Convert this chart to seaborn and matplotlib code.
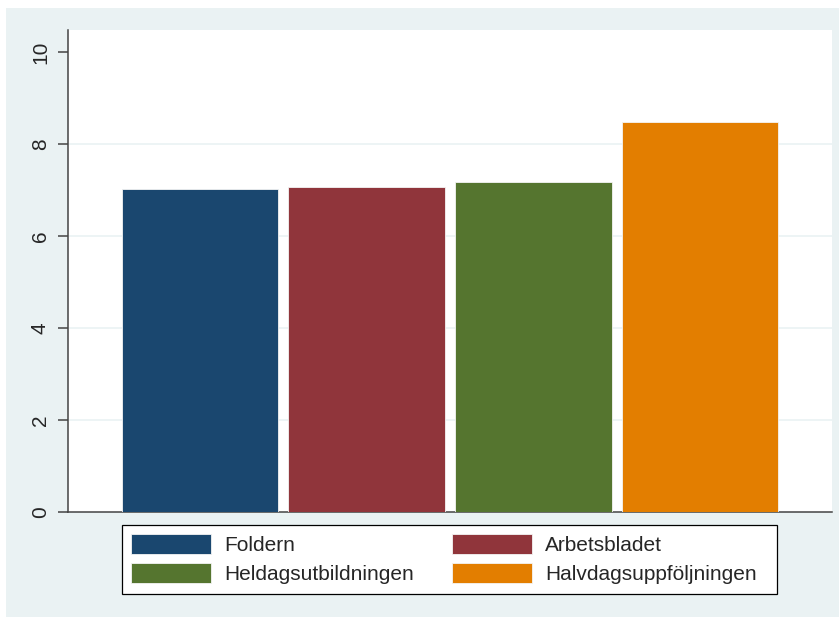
import matplotlib
matplotlib.use("Agg")
import matplotlib.pyplot as plt
import seaborn as sns
import pandas as pd
from matplotlib.patches import Rectangle

categories = ["Foldern", "Arbetsbladet", "Heldagsutbildningen", "Halvdagsuppföljningen"]
values = [7.03, 7.06, 7.17, 8.47]
colors = ["#1A476F", "#90353B", "#55752F", "#E37E00"]
yticks = [0, 2, 4, 6, 8, 10]

sns.set_style("white")
plt.rcParams["font.family"] = ["Liberation Sans", "DejaVu Sans"]

W, H = 839, 617
fig = plt.figure(figsize=(W / 100, H / 100), dpi=100)
fig.patch.set_facecolor("white")
bg = "#EAF2F3"
fig.patches.append(Rectangle((6 / W, 0), 1 - 6 / W, 1 - 8 / H, transform=fig.transFigure,
                             facecolor=bg, edgecolor="none", zorder=-10))

left, right, top, bottom = 68, 832, 30, 512
ax = fig.add_axes([left / W, (H - bottom) / H, (right - left) / W, (bottom - top) / H])
ax.set_facecolor("white")

df = pd.DataFrame({"cat": categories, "val": values})
sns.barplot(data=df, x="cat", y="val", hue="cat", palette=colors, width=0.94,
            saturation=1, ax=ax, legend=True, edgecolor="#f4f4f4", linewidth=0.6, zorder=3)

ax.set_xlim(-0.792, 3.792)
ax.set_ylim(0, 10.48)
ax.set_yticks(yticks)
ax.set_yticklabels([str(t) for t in yticks], rotation=90, va="center", fontsize=15)
ax.set_xticks([])
ax.set_xlabel("")
ax.set_ylabel("")
for g in [2, 4, 6, 8]:
    ax.axhline(g, color=bg, lw=1.2, zorder=1)

for s in ["top", "right"]:
    ax.spines[s].set_visible(False)
for s in ["left", "bottom"]:
    ax.spines[s].set_color("#444444")
    ax.spines[s].set_linewidth(1.1)
ax.tick_params(axis="y", direction="out", length=7, width=1.1, color="#444444", pad=6, left=True)

handles, labels = ax.get_legend_handles_labels()
ax.get_legend().remove()
order = [0, 2, 1, 3]
handles = [handles[i] for i in order]
labels = [labels[i] for i in order]

# legend frame
fig.patches.append(Rectangle((122 / W, (H - 594) / H), (777 - 122) / W, 69 / H,
                             transform=fig.transFigure, facecolor="white",
                             edgecolor="black", linewidth=0.9, zorder=1))
leg = fig.legend(handles, labels, ncol=2, loc="upper left",
                 bbox_to_anchor=(131 / W, (H - 534) / H),
                 frameon=False, fontsize=15,
                 handlelength=3.84, handleheight=1.12, labelspacing=0.36,
                 borderpad=0, handletextpad=0.62, borderaxespad=0, columnspacing=1.85)
leg.set_zorder(5)
for h in leg.legend_handles:
    h.set_edgecolor("#f4f4f4")

fig.savefig("out.png", dpi=100, facecolor=fig.get_facecolor())
